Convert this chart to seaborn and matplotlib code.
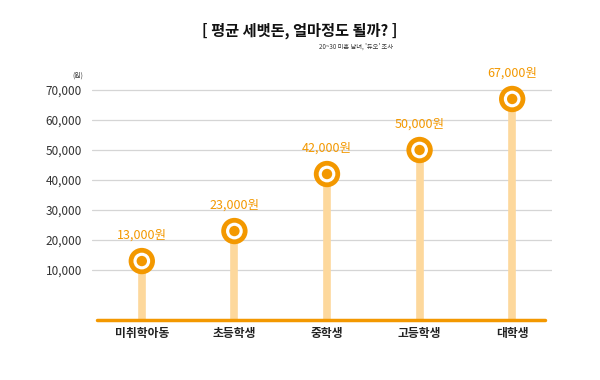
import matplotlib
matplotlib.use("Agg")
import matplotlib.pyplot as plt
import seaborn as sns
import pandas as pd

# data
categories = ["미취학아동", "초등학생", "중학생", "고등학생", "대학생"]
amounts = [13000, 23000, 42000, 50000, 67000]
value_labels = ["13,000원", "23,000원", "42,000원", "50,000원", "67,000원"]
ytick_values = [10000, 20000, 30000, 40000, 50000, 60000, 70000]

ORANGE = "#f39800"
STEM = "#fdd89c"

sns.set_style("white")
plt.rcParams["font.family"] = ["Noto Sans CJK KR", "DejaVu Sans"]

df = pd.DataFrame({"category": categories, "amount": amounts, "label": value_labels})
df["pos"] = range(len(df))

fig = plt.figure(figsize=(6, 3.8), dpi=100)
ax = fig.add_axes([0.153, 0.159, 0.767, 0.62])

ymin, ymax = -6500, 72000
ax.set_ylim(ymin, ymax)
ax.set_xlim(-0.54, 4.43)

# stems
ax.vlines(df["pos"], ymin, df["amount"], color=STEM, lw=5.5, zorder=2)

# markers: orange ring, white gap, orange dot
sns.scatterplot(data=df, x="pos", y="amount", s=360, color=ORANGE,
                edgecolor="none", ax=ax, zorder=3, legend=False)
sns.scatterplot(data=df, x="pos", y="amount", s=145, color="white",
                edgecolor="none", ax=ax, zorder=4, legend=False)
sns.scatterplot(data=df, x="pos", y="amount", s=56, color=ORANGE,
                edgecolor="none", ax=ax, zorder=5, legend=False)

for _, r in df.iterrows():
    ax.annotate(r["label"], (r["pos"], r["amount"]), xytext=(0, 18.5),
                textcoords="offset points", ha="center", va="center",
                color=ORANGE, fontsize=9)

# baseline
ax.axhline(ymin, xmin=0.012, xmax=0.985, color=ORANGE, lw=2.5, zorder=6,
           clip_on=False)

ax.set_yticks(ytick_values)
ax.set_yticklabels([f"{v:,}" for v in ytick_values], fontsize=8.5, color="#333333")
ax.set_xticks(df["pos"])
ax.set_xticklabels(categories, fontsize=8.5, color="#222222", fontweight="bold")
ax.tick_params(axis="both", length=0)
ax.tick_params(axis="y", pad=7)
ax.tick_params(axis="x", pad=5)
ax.yaxis.grid(True, color="#d5d5d5", lw=0.9)
ax.set_axisbelow(True)
for s in ax.spines.values():
    s.set_visible(False)
ax.set_xlabel("")
ax.set_ylabel("")

fig.text(0.13, 0.8, "(원)", fontsize=5, color="#333333", ha="center", va="center")
fig.text(0.5, 0.92, "[ 평균 세뱃돈, 얼마정도 될까? ]", fontsize=11, fontweight="bold",
         ha="center", va="center", color="#111111")
fig.text(0.593, 0.878, "20~30 미혼 남녀, '듀오' 조사", fontsize=4.5, ha="center",
         va="center", color="#333333")

fig.savefig("out.png", dpi=100)
